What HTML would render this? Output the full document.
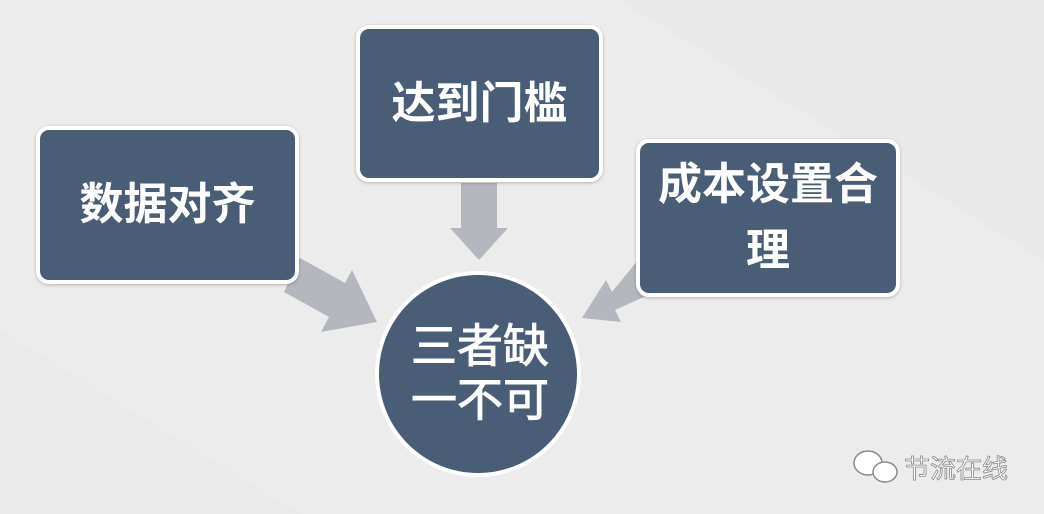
<!DOCTYPE html>
<html><head><meta charset="utf-8"><style>
body{margin:0;width:1044px;height:514px;overflow:hidden;background:#ececec;font-family:"Liberation Sans","Noto Sans CJK SC",sans-serif;}
.b{position:absolute;background:#4a5d76;border:4px solid #fff;border-radius:13px;box-sizing:border-box;color:#fff;font-weight:bold;font-size:44px;display:flex;align-items:center;justify-content:center;text-align:center;line-height:66px;box-shadow:0 1px 3px rgba(0,0,0,.25);}
</style></head><body>
<svg width="1044" height="514" style="position:absolute;left:0;top:0">
<polygon points="620,0 1044,0 1044,260" fill="#e9e9e9"/>
<polygon points="0,330 300,514 0,514" fill="#eaeaea"/>
<g fill="#b4b8be">
<polygon points="461,183 497,183 497,228 508,228 479,260 450,228 461,228"/>
<polygon points="300,258 345,283 352,270 377,322 321,332 329,317 284,292"/>
<polygon points="638,260 655,292 615,310 621,322 582,318 606,280 612,292"/>
</g>
<circle cx="478" cy="374" r="103" fill="#fff"/>
<circle cx="478" cy="374" r="99" fill="#4a5d76"/>
<text x="480" y="362" fill="#fff" stroke="#fff" stroke-width="1" font-size="46" text-anchor="middle" font-family="Liberation Sans, Noto Sans CJK SC, sans-serif">三者缺</text>
<text x="480" y="416" fill="#fff" stroke="#fff" stroke-width="1" font-size="46" text-anchor="middle" font-family="Liberation Sans, Noto Sans CJK SC, sans-serif">一不可</text>
<g fill="none" stroke="#8a8a8a" stroke-width="1.5">
<ellipse cx="868" cy="463" rx="14" ry="12" fill="#fff"/>
<ellipse cx="885" cy="472" rx="12" ry="10" fill="#fff"/>
</g>
<text x="904" y="478" fill="#fff" stroke="#888" stroke-width="0.8" font-size="26" font-family="Liberation Sans, Noto Sans CJK SC, sans-serif">节流在线</text>
</svg>
<div class="b" style="left:36px;top:126px;width:263px;height:158px">数据对齐</div>
<div class="b" style="left:356px;top:25px;width:247px;height:157px">达到门槛</div>
<div class="b" style="left:636px;top:139px;width:264px;height:158px">成本设置合<br>理</div>
</body></html>
